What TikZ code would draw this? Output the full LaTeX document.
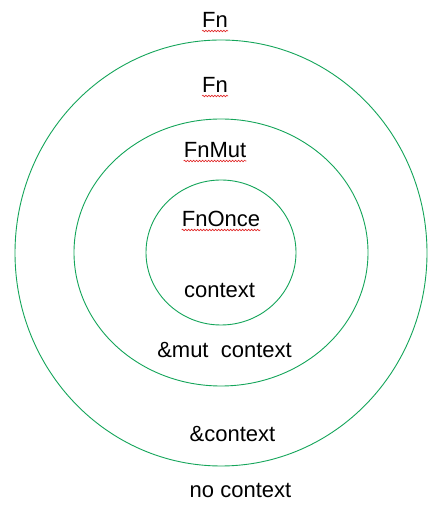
\documentclass[tikz,border=0pt]{standalone}
\usepackage{fontspec}
\setmainfont{Liberation Sans}
\usetikzlibrary{shapes.geometric,decorations.pathmorphing}
\definecolor{ringgreen}{RGB}{20,165,90}
\definecolor{squig}{RGB}{225,40,40}
\tikzset{
  ring/.style={draw=ringgreen, line width=0.9pt, ellipse, inner sep=0pt},
  lbl/.style={anchor=base, inner sep=0pt, font=\fontsize{22}{26}\selectfont},
  spell/.style={draw=squig, line width=0.6pt, decorate, decoration={snake, amplitude=0.8pt, segment length=3pt}}
}
\begin{document}
\begin{tikzpicture}[x=1pt,y=1pt]
\useasboundingbox (0,0) rectangle (441,513);
\fill[white] (0,0) rectangle (441,513);
\node[ring, minimum width=412pt, minimum height=426pt] (outer) at (221,260) {};
\node[ring, minimum width=294pt, minimum height=267pt] (middle) at (221,260.5) {};
\node[ring, minimum width=150pt, minimum height=145pt] (inner) at (221,260.5) {};
\node[lbl] (fn1) at (215,485) {Fn};
\node[lbl] (fn2) at (215,420) {Fn};
\node[lbl] (fnmut) at (215,355) {FnMut};
\node[lbl] (fnonce) at (221,286) {FnOnce};
\node[lbl] (ctx) at (219.5,215) {context};
\node[lbl] (mutctx) at (224.5,155) {\&mut\ \ context};
\node[lbl] (refctx) at (232.5,71) {\&context};
\node[lbl] (noctx) at (240.5,16) {no context};
\foreach \n in {fn1,fn2,fnmut,fnonce}{
  \draw[spell] ([yshift=-3pt]\n.base west) -- ([yshift=-3pt]\n.base east);
}
\end{tikzpicture}
\end{document}
